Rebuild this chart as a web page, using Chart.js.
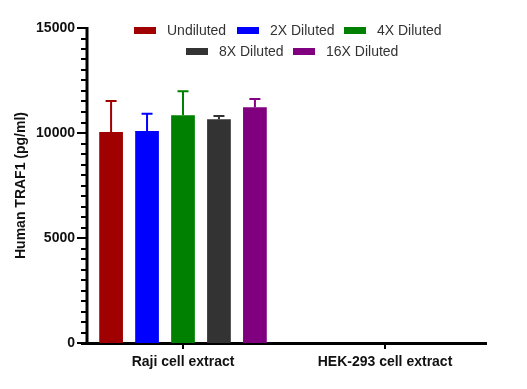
<!DOCTYPE html>
<html><head><meta charset="utf-8">
<script src="https://cdn.jsdelivr.net/npm/chart.js@4/dist/chart.umd.min.js"></script>
<style>html,body{margin:0;padding:0;background:#fff}#w{width:527px;height:389px}</style>
</head><body><div id="w"><canvas id="c" width="527" height="389"></canvas></div>
<script>
const categories = ["Raji cell extract", "HEK-293 cell extract"];
const seriesNames = ["Undiluted", "2X Diluted", "4X Diluted", "8X Diluted", "16X Diluted"];
const seriesColors = ["#a00000", "#0000ff", "#008000", "#333333", "#800080"];
const undiluted = [10050, 0];
const diluted2x = [10100, 0];
const diluted4x = [10850, 0];
const diluted8x = [10650, 0];
const diluted16x = [11230, 0];
const errUndiluted = [11520, 0];
const err2x = [10920, 0];
const err4x = [11990, 0];
const err8x = [10810, 0];
const err16x = [11620, 0];
const yTickLabels = [0, 5000, 10000, 15000];

const values = [undiluted, diluted2x, diluted4x, diluted8x, diluted16x];
const errs = [errUndiluted, err2x, err4x, err8x, err16x];
const Y_AXIS_X = 87;

const errorBars = {
  id: 'errorBars',
  afterDatasetsDraw(chart) {
    const ctx = chart.ctx, y = chart.scales.y;
    chart.data.datasets.forEach((ds, i) => {
      const meta = chart.getDatasetMeta(i);
      meta.data.forEach((bar, j) => {
        const v = ds.data[j], e = ds.errHigh[j];
        if (!v || !e) return;
        const top = y.getPixelForValue(e);
        ctx.save();
        ctx.strokeStyle = ds.backgroundColor;
        ctx.lineWidth = 2;
        ctx.beginPath();
        ctx.moveTo(bar.x, bar.y);
        ctx.lineTo(bar.x, top);
        ctx.moveTo(bar.x - 5.5, top);
        ctx.lineTo(bar.x + 5.5, top);
        ctx.stroke();
        ctx.restore();
      });
    });
  }
};

const yAxisLine = {
  id: 'yAxisLine',
  afterDraw(chart) {
    const ctx = chart.ctx, y = chart.scales.y, ca = chart.chartArea;
    ctx.save();
    ctx.strokeStyle = '#000';
    ctx.lineWidth = 3;
    ctx.beginPath();
    ctx.moveTo(Y_AXIS_X, ca.top - 1);
    ctx.lineTo(Y_AXIS_X, ca.bottom);
    ctx.stroke();
    ctx.lineWidth = 2;
    for (let v = 0; v <= 15000; v += 500) {
      const p = Math.round(y.getPixelForValue(v));
      const len = (v % 5000 === 0) ? 10 : 6;
      ctx.beginPath();
      ctx.moveTo(Y_AXIS_X - len, p);
      ctx.lineTo(Y_AXIS_X, p);
      ctx.stroke();
    }
    ctx.restore();
  }
};

const customLegend = {
  id: 'customLegend',
  afterDraw(chart) {
    const ctx = chart.ctx;
    const rows = [
      {y: 31, items: [[0, 134], [1, 237], [2, 344]]},
      {y: 52, items: [[3, 186], [4, 293]]}
    ];
    ctx.save();
    ctx.font = '14px "Liberation Sans", Arial, sans-serif';
    ctx.textBaseline = 'middle';
    ctx.textAlign = 'left';
    rows.forEach(r => {
      r.items.forEach(([i, x]) => {
        const ds = chart.data.datasets[i];
        ctx.fillStyle = ds.backgroundColor;
        ctx.fillRect(x, r.y - 4, 22, 7);
        ctx.fillStyle = '#333';
        ctx.fillText(ds.label, x + 33, r.y);
      });
    });
    ctx.restore();
  }
};

new Chart(document.getElementById('c'), {
  type: 'bar',
  data: {
    labels: categories,
    datasets: seriesNames.map((n, i) => ({
      label: n,
      data: values[i],
      errHigh: errs[i],
      backgroundColor: seriesColors[i],
      borderWidth: 0,
      categoryPercentage: 0.89,
      barPercentage: 0.66
    }))
  },
  options: {
    responsive: false,
    animation: false,
    devicePixelRatio: 1,
    layout: {padding: {top: 28, right: 41, left: 0, bottom: 0}},
    plugins: {legend: {display: false}, tooltip: {enabled: false}},
    scales: {
      x: {
        grid: {display: true, drawOnChartArea: false, offset: false, tickLength: 6, lineWidth: 2, color: '#000'},
        border: {display: true, color: '#000', width: 3},
        ticks: {color: '#111', font: {family: '"Liberation Sans", Arial, sans-serif', size: 14, weight: 'bold'}, padding: 5},
        afterFit(s) { s.height = 46; }
      },
      y: {
        min: 0, max: 15000,
        afterBuildTicks(s) { s.ticks = yTickLabels.map(v => ({value: v})); },
        grid: {display: false, drawTicks: false, tickLength: 0},
        border: {display: false},
        ticks: {color: '#111', font: {family: '"Liberation Sans", Arial, sans-serif', size: 14, weight: 'bold'}, padding: 7,
                callback: v => String(v)},
        title: {display: true, text: 'Human TRAF1 (pg/ml)', color: '#111', font: {family: '"Liberation Sans", Arial, sans-serif', size: 14, weight: 'bold'}, padding: {top: 13, bottom: 0}},
        afterFit(s) { s.width = 82; }
      }
    }
  },
  plugins: [errorBars, yAxisLine, customLegend]
});
</script></body></html>
